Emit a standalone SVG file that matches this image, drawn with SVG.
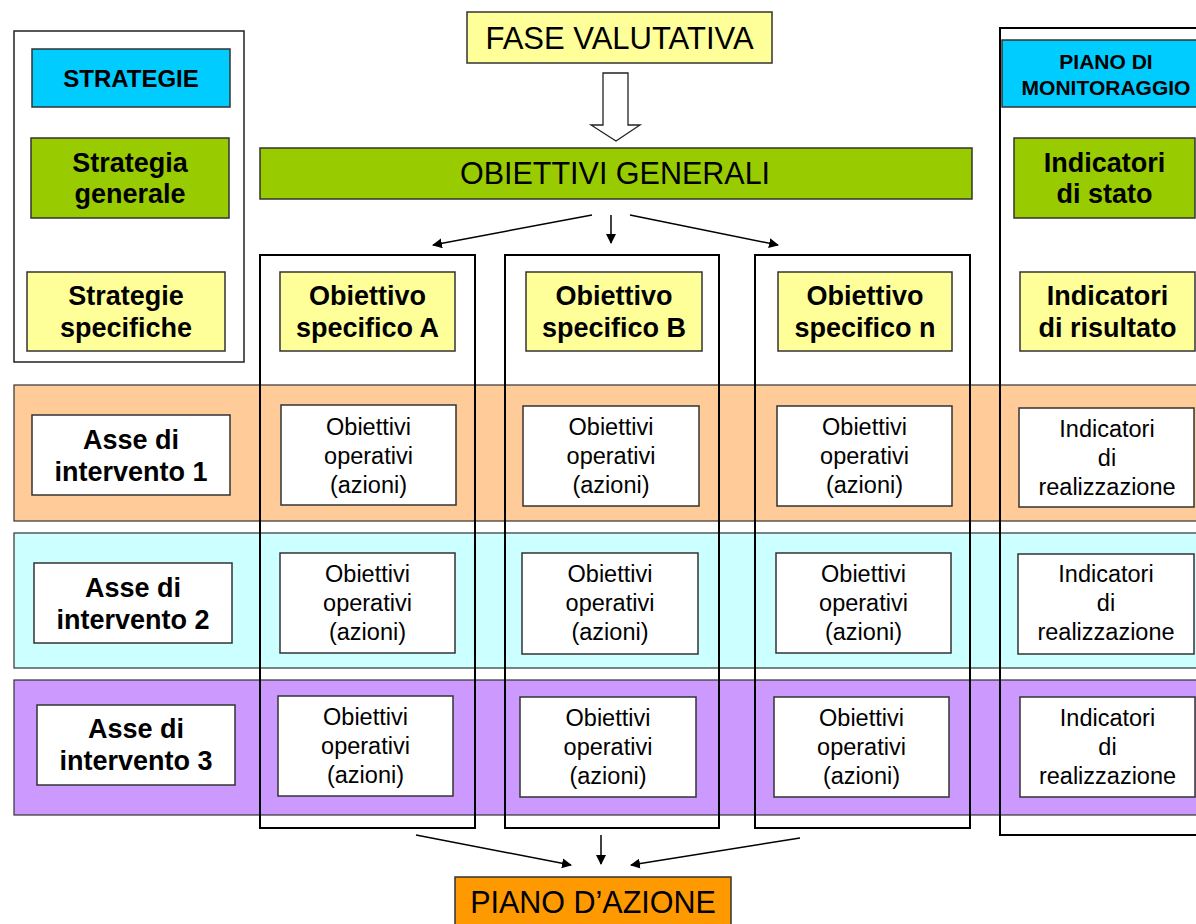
<svg xmlns="http://www.w3.org/2000/svg" width="1196" height="924" viewBox="0 0 1196 924">
<style>
.box{stroke:#333;stroke-width:1.5}
.col{fill:none;stroke:#000;stroke-width:2}
.band{stroke:#333;stroke-width:1.2}
.b{font-family:"Liberation Sans",Arial,sans-serif;font-weight:bold;fill:#000;text-anchor:middle}
.r{font-family:"Liberation Sans",Arial,sans-serif;fill:#000;text-anchor:middle}
.big{font-size:30.5px}
.lb{font-size:27px}
.op{font-size:23.5px}
.conn{stroke:#000;stroke-width:1.5;fill:none;marker-end:url(#ah)}
</style>
<defs>
<marker id="ah" viewBox="0 0 10 10" refX="9" refY="5" markerWidth="10" markerHeight="10" markerUnits="userSpaceOnUse" orient="auto">
<path d="M0,0 L10,5 L0,10 z" fill="#000"/>
</marker>
</defs>
<rect width="1196" height="924" fill="#fff"/>

<g id="strategie-panel">
<rect x="14" y="31" width="230" height="331" fill="#fff" stroke="#222" stroke-width="1.5"/>
</g>
<g id="strategie">
<rect class="box" x="32" y="49" width="198" height="58" fill="#00CCFF"/>
<text class="b" x="131" y="87" font-size="24">STRATEGIE</text>
</g>
<g id="strategia-generale">
<rect class="box" x="31" y="138" width="198" height="80" fill="#99CC00"/>
<text class="b lb" x="130" y="172">Strategia</text>
<text class="b lb" x="130" y="203">generale</text>
</g>
<g id="strategie-specifiche">
<rect class="box" x="27" y="272" width="198" height="79" fill="#FFFF99"/>
<text class="b lb" x="126" y="305">Strategie</text>
<text class="b lb" x="126" y="337">specifiche</text>
</g>

<g id="fase-valutativa">
<rect class="box" x="467" y="12" width="305" height="51" fill="#FFFF99"/>
<text class="r" font-size="31" x="619.5" y="49">FASE VALUTATIVA</text>
</g>

<g id="obiettivi-generali">
<rect class="box" x="260" y="148" width="712" height="51" fill="#99CC00"/>
<text class="r big" x="615" y="184">OBIETTIVI GENERALI</text>
</g>

<g id="monitoraggio-panel">
<rect x="1000" y="28" width="220" height="807" fill="#fff" stroke="#000" stroke-width="2"/>
</g>

<g id="bands">
<rect class="band" x="14" y="385" width="1200" height="136" fill="#FFCC99"/>
<rect class="band" x="14" y="533" width="1200" height="135" fill="#CCFFFF"/>
<rect class="band" x="14" y="680" width="1200" height="135" fill="#CC99FF"/>
</g>

<g id="col-A"><rect class="col" x="260" y="255" width="215" height="573"/></g>
<g id="col-B"><rect class="col" x="505" y="255" width="214" height="573"/></g>
<g id="col-n"><rect class="col" x="755" y="255" width="215" height="573"/></g>
<g id="monitoraggio-border"><line x1="1000" y1="28" x2="1000" y2="835" stroke="#000" stroke-width="2"/></g>

<g id="piano-monitoraggio">
<rect class="box" x="1002" y="40" width="220" height="67" fill="#00CCFF"/>
<text class="b" x="1106" y="69" font-size="21">PIANO DI</text>
<text class="b" x="1106" y="95" font-size="21">MONITORAGGIO</text>
</g>
<g id="indicatori-stato">
<rect class="box" x="1014" y="138" width="181" height="80" fill="#99CC00"/>
<text class="b lb" x="1104.5" y="172">Indicatori</text>
<text class="b lb" x="1104.5" y="203">di stato</text>
</g>
<g id="indicatori-risultato">
<rect class="box" x="1020" y="272" width="175" height="79" fill="#FFFF99"/>
<text class="b lb" x="1107.5" y="305">Indicatori</text>
<text class="b lb" x="1107.5" y="337">di risultato</text>
</g>

<g id="obiettivo-A">
<rect class="box" x="280" y="272" width="175" height="79" fill="#FFFF99"/>
<text class="b lb" x="367.5" y="305">Obiettivo</text>
<text class="b lb" x="367.5" y="337">specifico A</text>
</g>
<g id="obiettivo-B">
<rect class="box" x="526" y="272" width="176" height="79" fill="#FFFF99"/>
<text class="b lb" x="614" y="305">Obiettivo</text>
<text class="b lb" x="614" y="337">specifico B</text>
</g>
<g id="obiettivo-n">
<rect class="box" x="778" y="272" width="174" height="79" fill="#FFFF99"/>
<text class="b lb" x="865" y="305">Obiettivo</text>
<text class="b lb" x="865" y="337">specifico n</text>
</g>

<g id="asse-1">
<rect class="box" x="32" y="415" width="198" height="80" fill="#fff"/>
<text class="b lb" x="131" y="449">Asse di</text>
<text class="b lb" x="131" y="481">intervento 1</text>
</g>
<g id="asse-2">
<rect class="box" x="34" y="563" width="198" height="80" fill="#fff"/>
<text class="b lb" x="133" y="597">Asse di</text>
<text class="b lb" x="133" y="629">intervento 2</text>
</g>
<g id="asse-3">
<rect class="box" x="37" y="705" width="198" height="80" fill="#fff"/>
<text class="b lb" x="136" y="738">Asse di</text>
<text class="b lb" x="136" y="770">intervento 3</text>
</g>

<g id="op-A1">
<rect class="box" x="281" y="405" width="175" height="100" fill="#fff"/>
<text class="r op" x="368.5" y="435">Obiettivi</text><text class="r op" x="368.5" y="464">operativi</text><text class="r op" x="368.5" y="493">(azioni)</text>
</g>
<g id="op-A2">
<rect class="box" x="280" y="553" width="175" height="100" fill="#fff"/>
<text class="r op" x="367.5" y="582">Obiettivi</text><text class="r op" x="367.5" y="611">operativi</text><text class="r op" x="367.5" y="640">(azioni)</text>
</g>
<g id="op-A3">
<rect class="box" x="278" y="696" width="175" height="100" fill="#fff"/>
<text class="r op" x="365.5" y="725">Obiettivi</text><text class="r op" x="365.5" y="754">operativi</text><text class="r op" x="365.5" y="783">(azioni)</text>
</g>
<g id="op-B1">
<rect class="box" x="523" y="406" width="176" height="100" fill="#fff"/>
<text class="r op" x="611" y="435">Obiettivi</text><text class="r op" x="611" y="464">operativi</text><text class="r op" x="611" y="493">(azioni)</text>
</g>
<g id="op-B2">
<rect class="box" x="522" y="553" width="176" height="101" fill="#fff"/>
<text class="r op" x="610" y="582">Obiettivi</text><text class="r op" x="610" y="611">operativi</text><text class="r op" x="610" y="640">(azioni)</text>
</g>
<g id="op-B3">
<rect class="box" x="520" y="697" width="176" height="100" fill="#fff"/>
<text class="r op" x="608" y="726">Obiettivi</text><text class="r op" x="608" y="755">operativi</text><text class="r op" x="608" y="784">(azioni)</text>
</g>
<g id="op-n1">
<rect class="box" x="777" y="406" width="175" height="100" fill="#fff"/>
<text class="r op" x="864.5" y="435">Obiettivi</text><text class="r op" x="864.5" y="464">operativi</text><text class="r op" x="864.5" y="493">(azioni)</text>
</g>
<g id="op-n2">
<rect class="box" x="776" y="553" width="175" height="100" fill="#fff"/>
<text class="r op" x="863.5" y="582">Obiettivi</text><text class="r op" x="863.5" y="611">operativi</text><text class="r op" x="863.5" y="640">(azioni)</text>
</g>
<g id="op-n3">
<rect class="box" x="774" y="697" width="175" height="100" fill="#fff"/>
<text class="r op" x="861.5" y="726">Obiettivi</text><text class="r op" x="861.5" y="755">operativi</text><text class="r op" x="861.5" y="784">(azioni)</text>
</g>

<g id="ind-real-1">
<rect class="box" x="1019" y="408" width="175" height="99" fill="#fff"/>
<text class="r op" x="1107" y="437">Indicatori</text><text class="r op" x="1107" y="466">di</text><text class="r op" x="1107" y="495">realizzazione</text>
</g>
<g id="ind-real-2">
<rect class="box" x="1018" y="554" width="176" height="100" fill="#fff"/>
<text class="r op" x="1106" y="582">Indicatori</text><text class="r op" x="1106" y="611">di</text><text class="r op" x="1106" y="640">realizzazione</text>
</g>
<g id="ind-real-3">
<rect class="box" x="1020" y="697" width="175" height="100" fill="#fff"/>
<text class="r op" x="1107.5" y="726">Indicatori</text><text class="r op" x="1107.5" y="755">di</text><text class="r op" x="1107.5" y="784">realizzazione</text>
</g>

<g id="piano-azione">
<rect class="box" x="455" y="877" width="276" height="60" fill="#FF9900"/>
<text class="r big" x="593" y="913">PIANO D’AZIONE</text>
</g>

<g id="connectors">
<path d="M603,73 L628,73 L628,125 L640,125 L616,141 L591,125 L603,125 Z" fill="#fff" stroke="#222" stroke-width="1.3"/>
<line class="conn" x1="592" y1="215" x2="433" y2="245"/>
<line class="conn" x1="611" y1="215" x2="611" y2="243"/>
<line class="conn" x1="630" y1="215" x2="778" y2="245"/>
<line class="conn" x1="416" y1="835" x2="571" y2="865"/>
<line class="conn" x1="601" y1="835" x2="601" y2="864"/>
<line class="conn" x1="800" y1="838" x2="631" y2="865"/>
</g>
</svg>
